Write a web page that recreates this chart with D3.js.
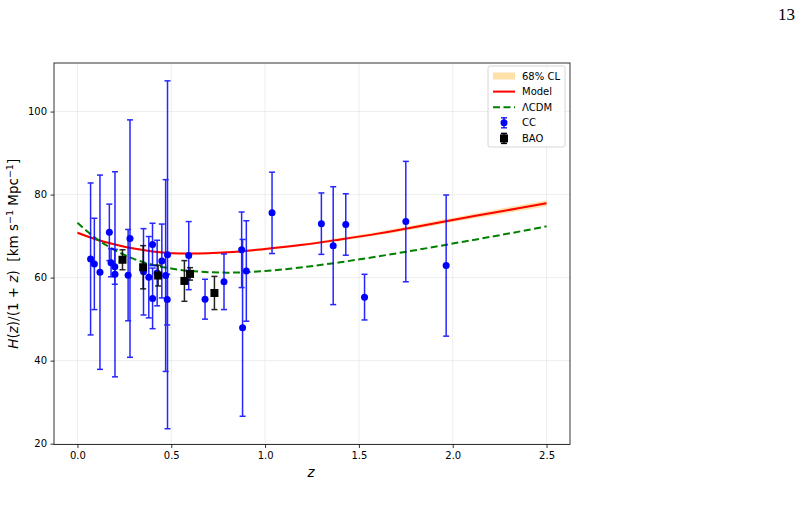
<!DOCTYPE html>
<html>
<head>
<meta charset="utf-8">
<script src="https://cdn.jsdelivr.net/npm/d3@7"></script>
<style>
  body { margin: 0; background: #fff; }
  svg { display: block; font-family: "DejaVu Sans", sans-serif; }
</style>
</head>
<body>
<div id="chart"></div>
<script>
// Cosmic chronometer points, H(z)/(1+z)
const ccZ   = [0.07, 0.09, 0.12, 0.17, 0.179, 0.199, 0.2, 0.27, 0.28, 0.352, 0.3802, 0.4, 0.4004, 0.4247, 0.4497, 0.47, 0.4783, 0.48, 0.593, 0.68, 0.781, 0.875, 0.88, 0.9, 1.037, 1.3, 1.363, 1.43, 1.53, 1.75, 1.965];
const ccVal = [64.5, 63.3, 61.3, 70.9, 63.6, 62.6, 60.8, 60.6, 69.4, 61.4, 60.1, 68.0, 55.0, 61.1, 64.0, 60.5, 54.7, 65.5, 65.3, 54.8, 59.0, 66.7, 47.9, 61.6, 75.6, 73.0, 67.7, 72.8, 55.3, 73.5, 62.9];
const ccErr = [18.3, 11.0, 23.4, 6.8, 3.4, 4.2, 24.7, 11.0, 28.6, 10.4, 9.8, 5.1, 7.3, 7.9, 8.9, 23.1, 6.1, 41.9, 8.2, 4.8, 6.7, 9.1, 21.3, 12.1, 9.8, 7.4, 14.2, 7.4, 5.5, 14.5, 17.0];

// BAO points
const baoZ   = [0.24, 0.35, 0.43, 0.57, 0.60, 0.73];
const baoVal = [64.3, 62.5, 60.5, 59.2, 60.9, 56.3];
const baoErr = [2.4, 5.2, 2.5, 4.9, 1.5, 4.0];

// Curves
const curveZ    = [0, 0.1, 0.2, 0.3, 0.4, 0.5, 0.6, 0.8, 1.0, 1.2, 1.4, 1.6, 1.8, 2.0, 2.2, 2.5];
const modelVal  = [70.8, 69.2, 68.0, 67.0, 66.3, 65.9, 65.8, 66.1, 66.9, 67.9, 69.2, 70.6, 72.2, 73.9, 75.5, 77.9];
const bandLow   = [70.5, 69.0, 67.8, 66.8, 66.1, 65.7, 65.6, 65.9, 66.6, 67.6, 68.8, 70.2, 71.7, 73.4, 74.9, 77.2];
const bandHigh  = [71.1, 69.4, 68.2, 67.2, 66.5, 66.1, 66.0, 66.3, 67.2, 68.2, 69.6, 71.0, 72.7, 74.4, 76.1, 78.6];
const lcdmVal   = [73.2, 69.4, 66.6, 64.5, 63.1, 62.2, 61.6, 61.2, 61.6, 62.5, 63.7, 65.1, 66.6, 68.2, 69.8, 72.35];

const xTicks = [0.0, 0.5, 1.0, 1.5, 2.0, 2.5];
const yTicks = [20, 40, 60, 80, 100];

const W = 801, H = 523;
const plot = { left: 54, right: 570, top: 63, bottom: 444.5 };

const svg = d3.select("#chart").append("svg")
    .attr("width", W)
    .attr("height", H);

const x = d3.scaleLinear().domain([-0.125, 2.625]).range([plot.left, plot.right]);
const y = d3.scaleLinear().domain([19.8, 111.7]).range([plot.bottom, plot.top]);

// grid
const grid = svg.append("g").attr("stroke", "#e8e8e8").attr("stroke-width", 0.8);
grid.selectAll(".gx").data(xTicks).join("line")
    .attr("x1", d => x(d)).attr("x2", d => x(d))
    .attr("y1", plot.top).attr("y2", plot.bottom);
grid.selectAll(".gy").data(yTicks).join("line")
    .attr("x1", plot.left).attr("x2", plot.right)
    .attr("y1", d => y(d)).attr("y2", d => y(d));

// clip to axes
svg.append("clipPath").attr("id", "clip")
    .append("rect")
    .attr("x", plot.left).attr("y", plot.top)
    .attr("width", plot.right - plot.left).attr("height", plot.bottom - plot.top);
const g = svg.append("g").attr("clip-path", "url(#clip)");

const curveData = curveZ.map((z, i) => ({ z, m: modelVal[i], lo: bandLow[i], hi: bandHigh[i], l: lcdmVal[i] }));

// 68% band
g.append("path")
    .datum(curveData)
    .attr("fill", "#ffa500")
    .attr("opacity", 0.35)
    .attr("d", d3.area().curve(d3.curveMonotoneX)
        .x(d => x(d.z)).y0(d => y(d.lo)).y1(d => y(d.hi)));

// model line
g.append("path")
    .datum(curveData)
    .attr("fill", "none")
    .attr("stroke", "red")
    .attr("stroke-width", 2)
    .attr("d", d3.line().curve(d3.curveMonotoneX).x(d => x(d.z)).y(d => y(d.m)));

// LCDM
g.append("path")
    .datum(curveData)
    .attr("fill", "none")
    .attr("stroke", "green")
    .attr("stroke-width", 2)
    .attr("stroke-dasharray", "7,3.5")
    .attr("d", d3.line().curve(d3.curveMonotoneX).x(d => x(d.z)).y(d => y(d.l)));

// error bars helper
function errorBars(sel, zs, vals, errs, color, opacity) {
    const data = zs.map((z, i) => ({ z, v: vals[i], e: errs[i] }));
    const eb = sel.append("g")
        .attr("stroke", color)
        .attr("stroke-width", 1.5)
        .attr("opacity", opacity);
    eb.selectAll(".bar").data(data).join("line")
        .attr("x1", d => x(d.z)).attr("x2", d => x(d.z))
        .attr("y1", d => y(d.v - d.e)).attr("y2", d => y(d.v + d.e));
    eb.selectAll(".capt").data(data).join("line")
        .attr("x1", d => x(d.z) - 3).attr("x2", d => x(d.z) + 3)
        .attr("y1", d => y(d.v + d.e)).attr("y2", d => y(d.v + d.e));
    eb.selectAll(".capb").data(data).join("line")
        .attr("x1", d => x(d.z) - 3).attr("x2", d => x(d.z) + 3)
        .attr("y1", d => y(d.v - d.e)).attr("y2", d => y(d.v - d.e));
    return data;
}

const ccData = errorBars(g, ccZ, ccVal, ccErr, "blue", 0.85);
g.append("g").selectAll("circle").data(ccData).join("circle")
    .attr("cx", d => x(d.z))
    .attr("cy", d => y(d.v))
    .attr("r", 3.5)
    .attr("fill", "blue");

const baoData = errorBars(g, baoZ, baoVal, baoErr, "black", 0.85);
g.append("g").selectAll("rect").data(baoData).join("rect")
    .attr("x", d => x(d.z) - 4)
    .attr("y", d => y(d.v) - 4)
    .attr("width", 8)
    .attr("height", 8)
    .attr("fill", "black");

// axes
const xAxis = svg.append("g")
    .attr("transform", `translate(0,${plot.bottom})`)
    .call(d3.axisBottom(x).tickValues(xTicks).tickFormat(d3.format(".1f")).tickSize(3.5).tickPadding(3.5));
const yAxis = svg.append("g")
    .attr("transform", `translate(${plot.left},0)`)
    .call(d3.axisLeft(y).tickValues(yTicks).tickSize(3.5).tickPadding(3.5));
[xAxis, yAxis].forEach(a => {
    a.select(".domain").remove();
    a.selectAll("text").attr("font-size", "10px").attr("font-family", "DejaVu Sans").attr("fill", "#000");
    a.selectAll("line").attr("stroke", "#000").attr("stroke-width", 0.8);
});

// frame
svg.append("rect")
    .attr("x", plot.left).attr("y", plot.top)
    .attr("width", plot.right - plot.left).attr("height", plot.bottom - plot.top)
    .attr("fill", "none")
    .attr("stroke", "#000")
    .attr("stroke-width", 0.8);

// axis labels
svg.append("text")
    .attr("x", 311).attr("y", 477)
    .attr("text-anchor", "middle")
    .attr("font-size", "13.5px")
    .attr("font-style", "italic")
    .text("z");

const yl = svg.append("text")
    .attr("transform", `translate(18,${(plot.top + plot.bottom) / 2}) rotate(-90)`)
    .attr("text-anchor", "middle")
    .attr("font-size", "13.5px")
    .style("white-space", "pre");
yl.append("tspan").attr("font-style", "italic").text("H");
yl.append("tspan").text("(");
yl.append("tspan").attr("font-style", "italic").text("z");
yl.append("tspan").text(")/(1 + ");
yl.append("tspan").attr("font-style", "italic").text("z");
yl.append("tspan").text(")\u00a0\u00a0[km s");
yl.append("tspan").attr("font-size", "9.5px").attr("dy", -5).text("\u22121");
yl.append("tspan").attr("dy", 5).text(" Mpc");
yl.append("tspan").attr("font-size", "9.5px").attr("dy", -5).text("\u22121");
yl.append("tspan").attr("dy", 5).text("]");

// legend
const legend = svg.append("g").attr("transform", "translate(488,66)");
legend.append("rect")
    .attr("width", 77).attr("height", 81)
    .attr("rx", 2)
    .attr("fill", "#fff").attr("fill-opacity", 0.8)
    .attr("stroke", "#cccccc").attr("stroke-width", 0.8);

const legendItems = ["68% CL", "Model", "\u039BCDM", "CC", "BAO"];
const items = legend.selectAll(".legend-item").data(legendItems).join("g")
    .attr("class", "legend-item")
    .attr("transform", (d, i) => `translate(0,${10 + i * 15.6})`);
items.append("text")
    .attr("x", 34).attr("y", 3.5)
    .attr("font-size", "10px")
    .attr("fill", "#000")
    .text(d => d);

items.filter((d, i) => i === 0).append("rect")
    .attr("x", 5).attr("y", -3.5).attr("width", 22).attr("height", 7)
    .attr("fill", "#ffa500").attr("opacity", 0.35);
items.filter((d, i) => i === 1).append("line")
    .attr("x1", 5).attr("x2", 27).attr("stroke", "red").attr("stroke-width", 2);
items.filter((d, i) => i === 2).append("line")
    .attr("x1", 5).attr("x2", 27).attr("stroke", "green").attr("stroke-width", 2)
    .attr("stroke-dasharray", "7,3.5");
items.filter((d, i) => i === 3).each(function() {
    const s = d3.select(this);
    s.append("line").attr("x1", 16).attr("x2", 16).attr("y1", -5).attr("y2", 5)
        .attr("stroke", "blue").attr("stroke-width", 1.5).attr("opacity", 0.85);
    s.append("line").attr("x1", 13).attr("x2", 19).attr("y1", -5).attr("y2", -5)
        .attr("stroke", "blue").attr("stroke-width", 1.5).attr("opacity", 0.85);
    s.append("line").attr("x1", 13).attr("x2", 19).attr("y1", 5).attr("y2", 5)
        .attr("stroke", "blue").attr("stroke-width", 1.5).attr("opacity", 0.85);
    s.append("circle").attr("cx", 16).attr("r", 3.5).attr("fill", "blue");
});
items.filter((d, i) => i === 4).each(function() {
    const s = d3.select(this);
    s.append("line").attr("x1", 16).attr("x2", 16).attr("y1", -5).attr("y2", 5)
        .attr("stroke", "black").attr("stroke-width", 1.5);
    s.append("line").attr("x1", 13).attr("x2", 19).attr("y1", -5).attr("y2", -5)
        .attr("stroke", "black").attr("stroke-width", 1.5);
    s.append("line").attr("x1", 13).attr("x2", 19).attr("y1", 5).attr("y2", 5)
        .attr("stroke", "black").attr("stroke-width", 1.5);
    s.append("rect").attr("x", 12).attr("y", -4).attr("width", 8).attr("height", 8).attr("fill", "black");
});

// page number
svg.append("text")
    .attr("x", 795).attr("y", 20)
    .attr("text-anchor", "end")
    .attr("font-family", "Liberation Serif, serif")
    .attr("font-size", "17px")
    .text("13");
</script>
</body>
</html>
